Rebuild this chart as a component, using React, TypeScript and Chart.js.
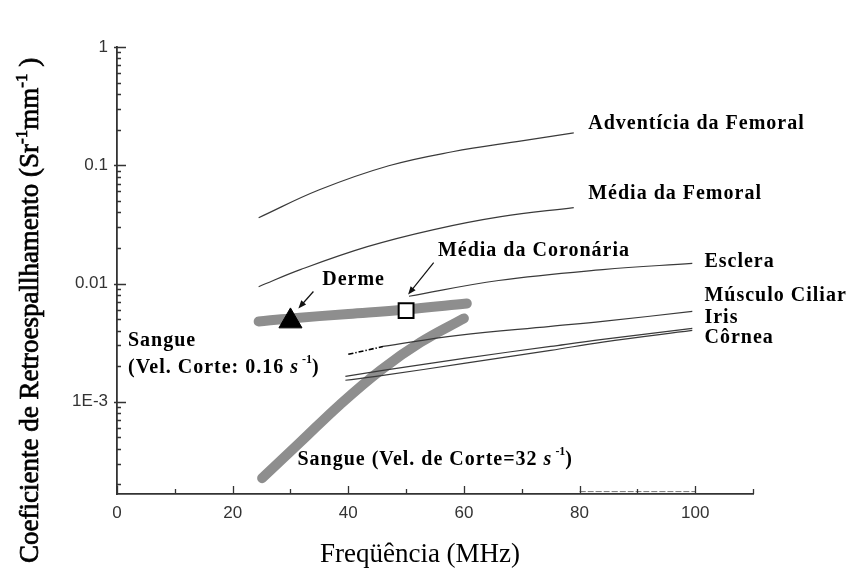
import { useEffect, useRef } from "react";
import { Chart, registerables } from "chart.js";

Chart.register(...registerables);

// Backscatter coefficient (Sr^-1 mm^-1) against frequency (MHz) for each tissue
const adventiciaFreq = [24.5, 35, 47, 58, 70, 79];
const adventiciaCoef = [0.036, 0.062, 0.099, 0.13, 0.161, 0.188];

const mediaFemoralFreq = [24.5, 31.7, 43.3, 54.8, 66.4, 79];
const mediaFemoralCoef = [0.0094, 0.0131, 0.0205, 0.0286, 0.0368, 0.0438];

const escleraFreq = [50.5, 66, 84, 99.5];
const escleraCoef = [0.0078, 0.0106, 0.0131, 0.0148];

const musculoFreq = [46, 59, 75, 84, 99.5];
const musculoCoef = [0.00294, 0.00364, 0.00434, 0.00478, 0.00581];

const irisFreq = [39.5, 46, 60, 75, 84, 99.5];
const irisCoef = [0.00164, 0.00184, 0.00233, 0.00294, 0.00337, 0.00417];

const corneaFreq = [39.5, 46, 60, 75, 84, 99.5];
const corneaCoef = [0.00152, 0.00167, 0.00211, 0.00272, 0.0032, 0.00401];

const dermeBandFreq = [24.5, 30, 40, 50, 60.5];
const dermeBandCoef = [0.00478, 0.00507, 0.00553, 0.00604, 0.00678];

const sangue32Freq = [25.1, 31.7, 38.6, 45.6, 52.5, 60];
const sangue32Coef = [0.000226, 0.000455, 0.00095, 0.00185, 0.00318, 0.00507];

const sangue016Freq = [40, 46];
const sangue016Coef = [0.00252, 0.00293];

const baselineTraceFreq = [80, 100];
const baselineTraceCoef = [0.000174, 0.000174];

// single measured points
const dermeFreq = [30];
const dermeCoef = [0.0048];
const coronariaFreq = [50];
const coronariaCoef = [0.0059];

// axes
const xMin = 0;
const xMax = 110;
const yMin = 0.000166;
const yMax = 1;
const xLabelTicks = [0, 20, 40, 60, 80, 100];
const xMinorTicks = [10, 30, 50, 70, 90, 110];
const yLabelTicks = [0.001, 0.01, 0.1, 1];
const yTickLabels = ["1E-3", "0.01", "0.1", "1"];
const yMinorTicks = [
  0.0002, 0.0003, 0.0004, 0.0005, 0.0006, 0.0007, 0.0008, 0.0009,
  0.002, 0.003, 0.004, 0.005, 0.006, 0.007, 0.008, 0.009,
  0.02, 0.03, 0.04, 0.05, 0.06, 0.07, 0.08, 0.09,
  0.2, 0.3, 0.4, 0.5, 0.6, 0.7, 0.8, 0.9,
];

const xTitle = "Freqüência (MHz)";

type Part = { t: string; sup?: boolean; it?: boolean };

const yTitleParts: Part[] = [
  { t: "Coeficiente de Retroespallhamento (Sr" },
  { t: "-1", sup: true },
  { t: "mm" },
  { t: "-1", sup: true },
  { t: " )" },
];

// labels placed at (frequency, coefficient)
const tissueLabels: { parts: Part[]; x: number; y: number }[] = [
  { parts: [{ t: "Adventícia da Femoral" }], x: 81.5, y: 0.224 },
  { parts: [{ t: "Média da Femoral" }], x: 81.5, y: 0.0575 },
  { parts: [{ t: "Média da Coronária" }], x: 55.5, y: 0.019 },
  { parts: [{ t: "Esclera" }], x: 101.6, y: 0.0152 },
  { parts: [{ t: "Músculo Ciliar" }], x: 101.6, y: 0.00792 },
  { parts: [{ t: "Iris" }], x: 101.6, y: 0.00511 },
  { parts: [{ t: "Côrnea" }], x: 101.6, y: 0.00347 },
  { parts: [{ t: "Derme" }], x: 35.5, y: 0.0108 },
  { parts: [{ t: "Sangue" }], x: 1.9, y: 0.00327 },
  {
    parts: [{ t: "(Vel. Corte: 0.16 " }, { t: "s", it: true }, { t: " -1", sup: true }, { t: ")" }],
    x: 1.9,
    y: 0.00192,
  },
  {
    parts: [{ t: "Sangue (Vel. de Corte=32 " }, { t: "s", it: true }, { t: " -1", sup: true }, { t: ")" }],
    x: 31.2,
    y: 0.000321,
  },
];

// pointer arrows: [tail, head] as (frequency, coefficient)
const pointerArrows: [number, number][][] = [
  [[33.97, 0.00856], [31.37, 0.00615]],
  [[54.77, 0.01503], [50.35, 0.00808]],
];

const zip = (xs: number[], ys: number[]) => xs.map((x, i) => ({ x, y: ys[i] }));

const SERIF = '"Liberation Serif", "Times New Roman", serif';
const SANS = '"Liberation Sans", Arial, sans-serif';

function drawParts(
  ctx: CanvasRenderingContext2D,
  x: number,
  y: number,
  parts: Part[],
  size: number,
  weight: string,
  spacing: number,
  outline = 0
) {
  let cx = x;
  for (const p of parts) {
    const s = p.sup ? Math.round(size * 0.62) : size;
    ctx.font = `${p.it ? "italic " : ""}${weight} ${s}px ${SERIF}`;
    (ctx as any).letterSpacing = `${p.sup ? 0 : spacing}px`;
    const dy = p.sup ? -size * 0.4 : 0;
    ctx.fillText(p.t, cx, y + dy);
    if (outline > 0) {
      ctx.lineWidth = outline;
      ctx.strokeText(p.t, cx, y + dy);
    }
    cx += ctx.measureText(p.t).width;
  }
  (ctx as any).letterSpacing = "0px";
}

const decorPlugin = {
  id: "decor",
  afterDatasetsDraw(chart: any) {
    const ctx: CanvasRenderingContext2D = chart.ctx;
    const xs = chart.scales.x;
    const ys = chart.scales.y;
    const { left, bottom } = chart.chartArea;
    ctx.save();

    // tick marks pointing into the plot
    ctx.strokeStyle = "#333";
    ctx.lineWidth = 1.3;
    ctx.beginPath();
    for (const v of yLabelTicks) {
      const py = Math.round(ys.getPixelForValue(v)) + 0.5;
      ctx.moveTo(left - 3, py);
      ctx.lineTo(left + 9, py);
    }
    for (const v of yMinorTicks) {
      const py = Math.round(ys.getPixelForValue(v)) + 0.5;
      ctx.moveTo(left, py);
      ctx.lineTo(left + 4, py);
    }
    for (const v of xLabelTicks) {
      const px = Math.round(xs.getPixelForValue(v)) + 0.5;
      ctx.moveTo(px, bottom);
      ctx.lineTo(px, bottom - 8);
    }
    for (const v of xMinorTicks) {
      const px = Math.round(xs.getPixelForValue(v)) + 0.5;
      ctx.moveTo(px, bottom);
      ctx.lineTo(px, bottom - 5);
    }
    ctx.stroke();

    // pointer arrows
    ctx.strokeStyle = "#111";
    ctx.fillStyle = "#111";
    ctx.lineWidth = 1.2;
    for (const [tail, head] of pointerArrows) {
      const x1 = xs.getPixelForValue(tail[0]);
      const y1 = ys.getPixelForValue(tail[1]);
      const x2 = xs.getPixelForValue(head[0]);
      const y2 = ys.getPixelForValue(head[1]);
      const a = Math.atan2(y2 - y1, x2 - x1);
      ctx.beginPath();
      ctx.moveTo(x1, y1);
      ctx.lineTo(x2 - Math.cos(a) * 5, y2 - Math.sin(a) * 5);
      ctx.stroke();
      ctx.beginPath();
      ctx.moveTo(x2, y2);
      ctx.lineTo(x2 - Math.cos(a) * 8 + Math.sin(a) * 3.2, y2 - Math.sin(a) * 8 - Math.cos(a) * 3.2);
      ctx.lineTo(x2 - Math.cos(a) * 8 - Math.sin(a) * 3.2, y2 - Math.sin(a) * 8 + Math.cos(a) * 3.2);
      ctx.closePath();
      ctx.fill();
    }

    // tissue labels
    ctx.fillStyle = "#000";
    ctx.strokeStyle = "#000";
    ctx.textAlign = "left";
    ctx.textBaseline = "middle";
    for (const lab of tissueLabels) {
      drawParts(ctx, xs.getPixelForValue(lab.x), ys.getPixelForValue(lab.y), lab.parts, 20, "bold", 1);
    }

    // axis titles
    ctx.textBaseline = "alphabetic";
    ctx.textAlign = "center";
    ctx.font = `27px ${SERIF}`;
    ctx.fillText(xTitle, (left + chart.chartArea.right) / 2 - 15, 562);

    ctx.textAlign = "left";
    ctx.translate(38, 563);
    ctx.rotate(-Math.PI / 2);
    drawParts(ctx, 0, 0, yTitleParts, 27, "normal", 0, 0.7);

    ctx.restore();
  },
};

export default function App() {
  const ref = useRef<HTMLCanvasElement | null>(null);

  useEffect(() => {
    if (!ref.current) return;
    const thin = (data: { x: number; y: number }[]) => ({
      data,
      borderColor: "#3a3a3a",
      borderWidth: 1.2,
      pointRadius: 0,
      tension: 0.4,
      order: 2,
    });
    const band = (data: { x: number; y: number }[]) => ({
      data,
      borderColor: "#8e8e8e",
      borderWidth: 10,
      borderCapStyle: "round" as const,
      borderJoinStyle: "round" as const,
      pointRadius: 0,
      tension: 0.4,
      order: 3,
    });

    const chart = new Chart(ref.current, {
      type: "line",
      data: {
        datasets: [
          { label: "Adventícia da Femoral", ...thin(zip(adventiciaFreq, adventiciaCoef)) },
          { label: "Média da Femoral", ...thin(zip(mediaFemoralFreq, mediaFemoralCoef)) },
          { label: "Esclera", ...thin(zip(escleraFreq, escleraCoef)) },
          { label: "Músculo Ciliar", ...thin(zip(musculoFreq, musculoCoef)) },
          { label: "Iris", ...thin(zip(irisFreq, irisCoef)) },
          { label: "Côrnea", ...thin(zip(corneaFreq, corneaCoef)) },
          {
            label: "Sangue (0.16)",
            ...thin(zip(sangue016Freq, sangue016Coef)),
            borderColor: "#000",
            borderWidth: 1.6,
            borderDash: [5, 2, 1.5, 2],
            order: 1,
          },
          {
            label: "trace",
            ...thin(zip(baselineTraceFreq, baselineTraceCoef)),
            borderColor: "#777",
            borderWidth: 1,
            borderDash: [6, 2],
          },
          { label: "Derme (faixa)", ...band(zip(dermeBandFreq, dermeBandCoef)) },
          { label: "Sangue (32)", ...band(zip(sangue32Freq, sangue32Coef)) },
          {
            label: "Derme",
            data: zip(dermeFreq, dermeCoef),
            showLine: false,
            pointStyle: "triangle",
            pointRadius: 13.3,
            pointBackgroundColor: "#000",
            pointBorderColor: "#000",
            pointBorderWidth: 1,
            order: 0,
          },
          {
            label: "Média da Coronária",
            data: zip(coronariaFreq, coronariaCoef),
            showLine: false,
            pointStyle: "rect",
            pointRadius: 10.5,
            pointBackgroundColor: "#fff",
            pointBorderColor: "#000",
            pointBorderWidth: 2,
            order: 0,
          },
        ],
      },
      options: {
        animation: false,
        responsive: false,
        devicePixelRatio: 1,
        layout: { padding: { left: 0, top: 47, right: 102, bottom: 0 } },
        plugins: { legend: { display: false }, tooltip: { enabled: false } },
        scales: {
          x: {
            type: "linear",
            min: xMin,
            max: xMax,
            afterFit: (s: any) => {
              s.height = 86;
            },
            afterBuildTicks: (s: any) => {
              s.ticks = xLabelTicks.map((value) => ({ value }));
            },
            grid: { display: false, drawTicks: false },
            border: { display: true, color: "#333", width: 1.8 },
            ticks: {
              padding: 9,
              color: "#333",
              font: { family: SANS, size: 17 },
              maxRotation: 0,
              callback: (v: any) => String(v),
            },
          },
          y: {
            type: "logarithmic",
            min: yMin,
            max: yMax,
            afterFit: (s: any) => {
              s.width = 117;
            },
            afterBuildTicks: (s: any) => {
              s.ticks = yLabelTicks.map((value) => ({ value }));
            },
            grid: { display: false, drawTicks: false },
            border: { display: true, color: "#333", width: 1.8 },
            ticks: {
              padding: 9,
              color: "#333",
              font: { family: SANS, size: 17 },
              callback: (v: any) => {
                const i = yLabelTicks.findIndex((t) => Math.abs(t - v) / t < 1e-6);
                return i >= 0 ? yTickLabels[i] : "";
              },
            },
          },
        },
      },
      plugins: [decorPlugin],
    });
    return () => chart.destroy();
  }, []);

  return (
    <div style={{ position: "fixed", left: 0, top: 0, width: 855, height: 580, background: "#fff" }}>
      <canvas ref={ref} width={855} height={580} />
    </div>
  );
}
